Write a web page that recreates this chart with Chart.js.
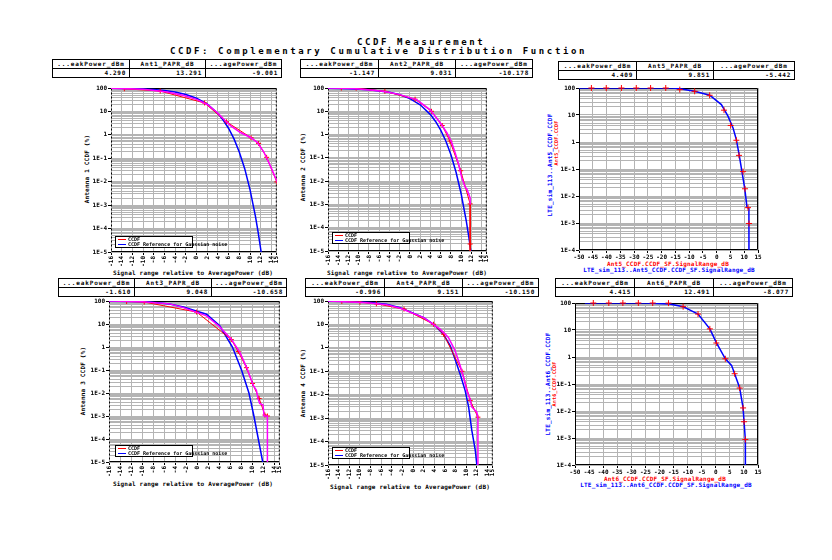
<!DOCTYPE html>
<html>
<head>
<meta charset="utf-8">
<title>CCDF Measurement</title>
<script src="https://cdn.jsdelivr.net/npm/chart.js"></script>
<style>
  body { margin: 0; width: 832px; height: 560px; background: #fff; position: relative; overflow: hidden; font-family: "DejaVu Sans Mono", monospace; }
  canvas { position: absolute; }
  .txt { position: absolute; white-space: nowrap; font-weight: bold; font-size: 6px; line-height: 6px; letter-spacing: 0.2px; transform: translate(-50%, -50%); }
  .rot { transform: translate(-50%, -50%) rotate(-90deg); }
  .title { position: absolute; white-space: nowrap; font-weight: bold; font-size: 9px; line-height: 9px; letter-spacing: 2.6px; }
  table.tb { position: absolute; border-collapse: collapse; table-layout: fixed; font-family: "DejaVu Sans Mono", monospace; font-size: 6px; font-weight: bold; }
  .tb th, .tb td { border: 1px solid #000; height: 8px; padding: 0 3px; line-height: 8px; overflow: hidden; white-space: nowrap; }
  .tb th { text-align: center; letter-spacing: 0.9px; }
  .tb td { text-align: right; letter-spacing: 0.7px; }
  .lg { position: absolute; box-sizing: border-box; width: 78px; height: 12px; border: 1px solid #000; background: #fff; font-weight: bold; font-size: 5px; line-height: 5px; padding: 0 0 0 2px; white-space: nowrap; }
  .lg i { display: inline-block; width: 8px; height: 1.5px; vertical-align: middle; margin-right: 2px; }
</style>
</head>
<body>
<div class="title" style="left:357px;top:38px">CCDF Measurement</div>
<div class="title" style="left:170px;top:47px">CCDF: Complementary Cumulative Distribution Function</div>

<div class="txt" style="left:193px;top:273px">Signal range relative to AveragePower (dB)</div>
<div class="txt" style="left:407px;top:273px">Signal range relative to AveragePower (dB)</div>
<div class="txt" style="left:193px;top:484px">Signal range relative to AveragePower (dB)</div>
<div class="txt" style="left:410px;top:487px">Signal range relative to AveragePower (dB)</div>
<div class="txt rot" style="left:87px;top:169px">Antenna 1 CCDF (%)</div>
<div class="txt rot" style="left:303px;top:167px">Antenna 2 CCDF (%)</div>
<div class="txt rot" style="left:83px;top:381px">Antenna 3 CCDF (%)</div>
<div class="txt rot" style="left:303px;top:383px">Antenna 4 CCDF (%)</div>

<div class="txt rot" style="left:550px;top:165px;color:#00f">LTE_sim_113..Ant5_CCDF.CCDF</div>
<div class="txt rot" style="left:556px;top:143px;color:#f00;font-size:5px">Ant5_CCDF.CCDF</div>
<div class="txt" style="left:668px;top:264px;color:#f00">Ant5_CCDF.CCDF_SF.SignalRange_dB</div>
<div class="txt" style="left:669px;top:270px;color:#00f">LTE_sim_113..Ant5_CCDF.CCDF_SF.SignalRange_dB</div>

<div class="txt rot" style="left:548px;top:384px;color:#00f">LTE_sim_113..Ant6_CCDF.CCDF</div>
<div class="txt rot" style="left:554px;top:384px;color:#f00;font-size:5px">Ant6_CCDF.CCDF</div>
<div class="txt" style="left:665px;top:479px;color:#f00">Ant6_CCDF.CCDF_SF.SignalRange_dB</div>
<div class="txt" style="left:666px;top:485px;color:#00f">LTE_sim_113..Ant6_CCDF.CCDF_SF.SignalRange_dB</div>

<script>
// axis ticks
const antTicks = [-16, -14, -12, -10, -8, -6, -4, -2, 0, 2, 4, 6, 8, 10, 12, 14, 15];
const simTicks = [-50, -45, -40, -35, -30, -25, -20, -15, -10, -5, 0, 5, 10, 15];
const decades = [1e-5, 1e-4, 1e-3, 1e-2, 1e-1, 1, 10, 100];
const decadeLabels = ['1E-5', '1E-4', '1E-3', '1E-2', '1E-1', '1', '10', '100'];

// summary tables
const paprNames = ['Ant1_PAPR_dB', 'Ant2_PAPR_dB', 'Ant5_PAPR_dB', 'Ant3_PAPR_dB', 'Ant4_PAPR_dB', 'Ant6_PAPR_dB'];
const peakPower = ['4.290', '-1.147', '4.409', '-1.610', '-0.996', '4.415'];
const paprValue = ['13.291', '9.031', '9.851', '9.048', '9.151', '12.491'];
const avgPower = ['-9.001', '-10.178', '-5.442', '-10.658', '-10.150', '-8.077'];

// Antenna 1
const ccdf1X = [-16, -13, -10, -8.7, -5.5, -2.4, 0.1, 2.0, 3.9, 5.1, 6.4, 8.2, 10.1, 11.4, 12.6, 13.9, 15.2];
const ccdf1Y = [98, 94, 88, 82, 67, 48, 32, 19.8, 8.8, 4.6, 2.4, 1.26, 0.77, 0.47, 0.18, 0.042, 0.0085];
const mark1X = [-13.5, -6.8, 1.5, 5.6, 10.2, 11.6, 13.1, 15.0];
const mark1Y = [93, 74, 23, 3.6, 0.75, 0.43, 0.11, 0.0098];
const ref1X = [-16, -14, -12, -10, -8, -6, -4, -2, 0, 2, 4, 5, 6, 7, 8, 9, 10, 11, 11.5, 12.1];
const ref1Y = [97.5, 96, 94, 90.5, 85.4, 77.8, 67.2, 53.2, 36.8, 20.5, 8.1, 4.2, 1.87, 0.67, 0.18, 0.036, 0.0045, 0.00034, 0.000073, 0.0000091];

// Antenna 2
const ccdf2X = [-16, -13, -10.5, -5.2, -2, 1.3, 3.9, 5.9, 7.2, 8.15, 8.8, 9.5, 10.1, 10.8, 11.1, 11.75, 11.75];
const ccdf2Y = [99.5, 97, 93.6, 72, 52, 31.8, 11.9, 3.2, 1.2, 0.45, 0.17, 0.053, 0.0145, 0.0054, 0.0046, 0.0019, 0.001];
const mark2X = [-13.4, -10.5, -4.9, 1.0, 4.2, 6.3, 7.8, 9.9, 11.75, 11.75, 11.75];
const mark2Y = [99, 98, 72, 33, 10, 2.45, 0.53, 0.028, 0.00105, 0.00002, 0.000005];
const ref2X = [-16, -12, -8, -4, -2, 0, 2, 4, 5, 6, 7, 8, 9, 10, 11, 11.5, 11.9];
const ref2Y = [97.4, 93.6, 84.7, 65.9, 51.6, 35.1, 19, 7.2, 3.65, 1.55, 0.53, 0.135, 0.024, 0.0028, 0.00019, 0.000038, 0.0000092];

// Antenna 5 (simulation overlay)
const sim5X = [-50, -16, -13.4, -8, -2.55, 1.7, 4.1, 5.9, 7.1, 8.1, 9.2, 10.2, 11.0, 11.7, 11.75];
const sim5Y = [100, 99.5, 94.5, 75.5, 53.8, 24.4, 9.1, 3.4, 1.27, 0.36, 0.076, 0.0185, 0.0039, 0.0034, 0.000001];
const mark5X = [-45.5, -40.1, -34.6, -29.2, -24, -18.5, -13.4, -8, -2.55, 2.66, 5.08, 7.14, 8.1, 9.56, 10.29, 11.38, 11.74];
const mark5Y = [100, 100, 100, 100, 100, 100, 87, 75.5, 53.8, 15.1, 4.1, 1.16, 0.32, 0.08, 0.0185, 0.0037, 0.00096];

// Antenna 3
const ccdf3X = [-16, -10, -5, -2.5, 1.7, 4.1, 6.2, 7.75, 8.95, 9.85, 10.15, 10.75, 11.05, 11.35, 11.95, 12.15, 12.75, 12.75];
const ccdf3Y = [99.5, 93, 75, 51.6, 22.5, 7.6, 2.2, 0.59, 0.134, 0.036, 0.0217, 0.013, 0.0058, 0.0035, 0.003, 0.001, 0.001, 0.000001];
const mark3X = [-12.8, -9.6, -0.1, 6.2, 7.45, 8.95, 10.05, 11.25, 12.3, 12.75];
const mark3Y = [95, 90, 33, 2.1, 0.64, 0.126, 0.026, 0.0058, 0.0011, 0.001];
const ref3X = [-16, -12, -8.6, -5, -2.5, 1.7, 4.1, 6.4, 8.05, 9.4, 10.3, 11.1, 11.9, 12.0];
const ref3Y = [98, 95, 90.6, 74, 55, 26.6, 8.4, 1.0, 0.1, 0.01, 0.001, 0.0001, 0.00001, 0.000007];

// Antenna 4
const ccdf4X = [-16, -8.7, -5, -2.4, 2.0, 5.1, 6.65, 7.9, 8.85, 9.6, 10.1, 10.7, 11.05, 12.0, 12.2, 12.2];
const ccdf4Y = [99.5, 85, 70, 49, 19.6, 6.3, 2.8, 0.76, 0.175, 0.047, 0.015, 0.0067, 0.003, 0.0018, 0.00095, 0.000001];
const mark4X = [-13.4, -10, -6.9, -1.7, 3.85, 5.75, 9.2, 10.75, 12.2];
const mark4Y = [96, 89, 76, 45, 10.2, 3.8, 0.1, 0.0057, 0.0011];
const ref4X = [-16, -12, -8, -5, -2.4, 2.0, 3.85, 5.7, 7.0, 7.9, 8.85, 9.8, 10.45, 11.05, 11.7, 12.0, 12.1];
const ref4Y = [98, 95, 87, 73, 52, 19.6, 10.2, 3.85, 1.23, 0.33, 0.077, 0.015, 0.003, 0.0003, 0.000043, 0.00001, 0.000007];

// Antenna 6 (simulation overlay)
const sim6X = [-46.5, -25, -16.3, -11.6, -6.3, -2.1, 0.2, 3.4, 5.6, 6.7, 8.5, 9.7, 10.05, 10.5, 10.52];
const sim6Y = [100, 99.5, 92, 73, 39, 11, 3.4, 0.86, 0.49, 0.24, 0.071, 0.013, 0.004, 0.00088, 0.000001];
const mark6X = [-43.5, -38, -33, -27.5, -22.4, -16.8, -11.6, -6.3, -2.1, 0.2, 3.4, 6.7, 8.5, 9.7, 10.05, 10.5];
const mark6Y = [100, 100, 100, 100, 100, 99, 73, 39, 11, 3.3, 0.86, 0.24, 0.071, 0.013, 0.004, 0.00088];

const tickFont = { family: '"DejaVu Sans Mono", monospace', size: 6, weight: 'bold' };
const gridGrey = '#b4b4b4';

function pts(xs, ys) {
    return xs.map(function (x, i) { return { x: x, y: ys[i] }; });
}

function logTicks(minVal) {
    var out = [];
    decades.forEach(function (d, i) {
        if (d < minVal) return;
        out.push({ value: d, lbl: decadeLabels[i] });
        if (d < 100) {
            for (var k = 2; k <= 9; k++) out.push({ value: d * k, lbl: '' });
        }
    });
    return out.sort(function (a, b) { return a.value - b.value; });
}

const framePlugin = {
    id: 'frame',
    beforeDatasetsDraw: function (chart, args, opts) {
        var a = chart.chartArea, c = chart.ctx;
        var l = a.left + 0.5, r = a.right - 0.5, t = a.top + 0.5, b = a.bottom - 0.5;
        c.save();
        c.strokeStyle = '#000';
        c.lineWidth = 1;
        c.beginPath(); c.moveTo(l, t); c.lineTo(r, t); c.moveTo(l, b); c.lineTo(r, b); c.stroke();
        if (opts.dashed) c.setLineDash([2, 2]);
        c.beginPath(); c.moveTo(l, t); c.lineTo(l, b); c.moveTo(r, t); c.lineTo(r, b); c.stroke();
        c.restore();
    }
};

function table(i, left, top, widths) {
    var t = document.createElement('table');
    t.className = 'tb';
    t.style.left = left + 'px';
    t.style.top = top + 'px';
    t.style.width = (widths[0] + widths[1] + widths[2]) + 'px';
    t.innerHTML = '<colgroup><col style="width:' + widths[0] + 'px"><col style="width:' + widths[1] + 'px"><col style="width:' + widths[2] + 'px"></colgroup>' +
        '<tr><th>...eakPower_dBm</th><th>' + paprNames[i] + '</th><th>...agePower_dBm</th></tr>' +
        '<tr><td>' + peakPower[i] + '</td><td>' + paprValue[i] + '</td><td>' + avgPower[i] + '</td></tr>';
    document.body.appendChild(t);
}

function legend(left, top) {
    var d = document.createElement('div');
    d.className = 'lg';
    d.style.left = left + 'px';
    d.style.top = top + 'px';
    d.innerHTML = '<i style="background:#f00"></i>CCDF<br><i style="background:#00f"></i>CCDF Reference for Gaussian noise';
    document.body.appendChild(d);
}

function panel(box, xTicks, yMin, datasets, antStyle) {
    var L = box[0], T = box[1], R = box[2], B = box[3];
    var W = R - L + 38, H = B - T + 22;
    var cv = document.createElement('canvas');
    cv.width = W; cv.height = H;
    cv.style.left = (L - 30) + 'px';
    cv.style.top = (T - 4) + 'px';
    document.body.appendChild(cv);
    var rot = antStyle ? 90 : 0;
    var yTicks = logTicks(yMin);
    return new Chart(cv, {
        type: 'line',
        data: { datasets: datasets },
        options: {
            responsive: false,
            animation: false,
            devicePixelRatio: 1,
            layout: { padding: { top: 4, right: 8, left: 0, bottom: 0 } },
            plugins: { legend: { display: false }, tooltip: { enabled: false }, frame: { dashed: antStyle } },
            elements: { line: { tension: 0 }, point: { hitRadius: 0 } },
            scales: {
                x: {
                    type: 'linear',
                    min: xTicks[0],
                    max: xTicks[xTicks.length - 1],
                    afterBuildTicks: function (s) { s.ticks = xTicks.map(function (v) { return { value: v }; }); },
                    afterFit: function (s) { s.height = 18; },
                    border: { display: false },
                    grid: { color: gridGrey, lineWidth: 1, tickLength: 3, tickColor: '#000' },
                    ticks: { autoSkip: false, minRotation: rot, maxRotation: rot, padding: 1, color: '#000', font: tickFont }
                },
                y: {
                    type: 'logarithmic',
                    min: yMin,
                    max: 100,
                    afterBuildTicks: function (s) { s.ticks = yTicks.map(function (t) { return { value: t.value, lbl: t.lbl }; }); },
                    afterFit: function (s) { s.width = 30; },
                    border: { display: false },
                    grid: {
                        color: gridGrey, lineWidth: 1, tickLength: 3,
                        tickColor: function (c) { return c.tick && c.tick.lbl ? '#000' : 'rgba(0,0,0,0)'; }
                    },
                    ticks: {
                        autoSkip: false, padding: 1, color: '#000', font: tickFont,
                        callback: function (v, i, t) { return t[i].lbl || ''; }
                    }
                }
            }
        },
        plugins: [framePlugin]
    });
}

function antSets(cX, cY, mX, mY, rX, rY) {
    return [
        { label: 'CCDF', data: pts(cX, cY), borderColor: '#ff00ff', borderWidth: 1.5, pointRadius: 0 },
        { label: 'CCDF', data: pts(mX, mY), borderColor: '#ff0000', borderWidth: 1, pointStyle: 'cross', pointRadius: 2.5, pointBorderWidth: 1, pointBorderColor: '#ff0000' },
        { label: 'CCDF Reference for Gaussian noise', data: pts(rX, rY), borderColor: '#0000ff', borderWidth: 1.5, pointRadius: 0 }
    ];
}

function simSets(mX, mY, sX, sY) {
    return [
        { label: 'measured', data: pts(mX, mY), showLine: false, pointStyle: 'cross', pointRadius: 3, pointBorderWidth: 1, pointBorderColor: '#ff0000', borderColor: '#ff0000', clip: { left: 4, top: 4, right: 4, bottom: 0 } },
        { label: 'simulated', data: pts(sX, sY), borderColor: '#0000ff', borderWidth: 1.5, pointRadius: 0 }
    ];
}

table(0, 52, 59, [77, 76, 76]);
table(1, 300, 59, [78, 77, 77]);
table(2, 558, 61, [78, 77, 81]);
table(3, 58, 278, [76, 77, 75]);
table(4, 305, 278, [79, 78, 76]);
table(5, 555, 278, [79, 79, 79]);

panel([111, 87, 277, 252], antTicks, 1e-5, antSets(ccdf1X, ccdf1Y, mark1X, mark1Y, ref1X, ref1Y), true);
panel([328, 87, 487, 251], antTicks, 1e-5, antSets(ccdf2X, ccdf2Y, mark2X, mark2Y, ref2X, ref2Y), true);
panel([579, 87, 758, 250], simTicks, 1e-4, simSets(mark5X, mark5Y, sim5X, sim5Y), false);
panel([109, 300, 280, 462], antTicks, 1e-5, antSets(ccdf3X, ccdf3Y, mark3X, mark3Y, ref3X, ref3Y), true);
panel([328, 300, 493, 465], antTicks, 1e-5, antSets(ccdf4X, ccdf4Y, mark4X, mark4Y, ref4X, ref4Y), true);
panel([575, 302, 758, 465], simTicks, 1e-4, simSets(mark6X, mark6Y, sim6X, sim6Y), false);

legend(115, 236);
legend(332, 232);
legend(115, 445);
legend(332, 447);
</script>
</body>
</html>
